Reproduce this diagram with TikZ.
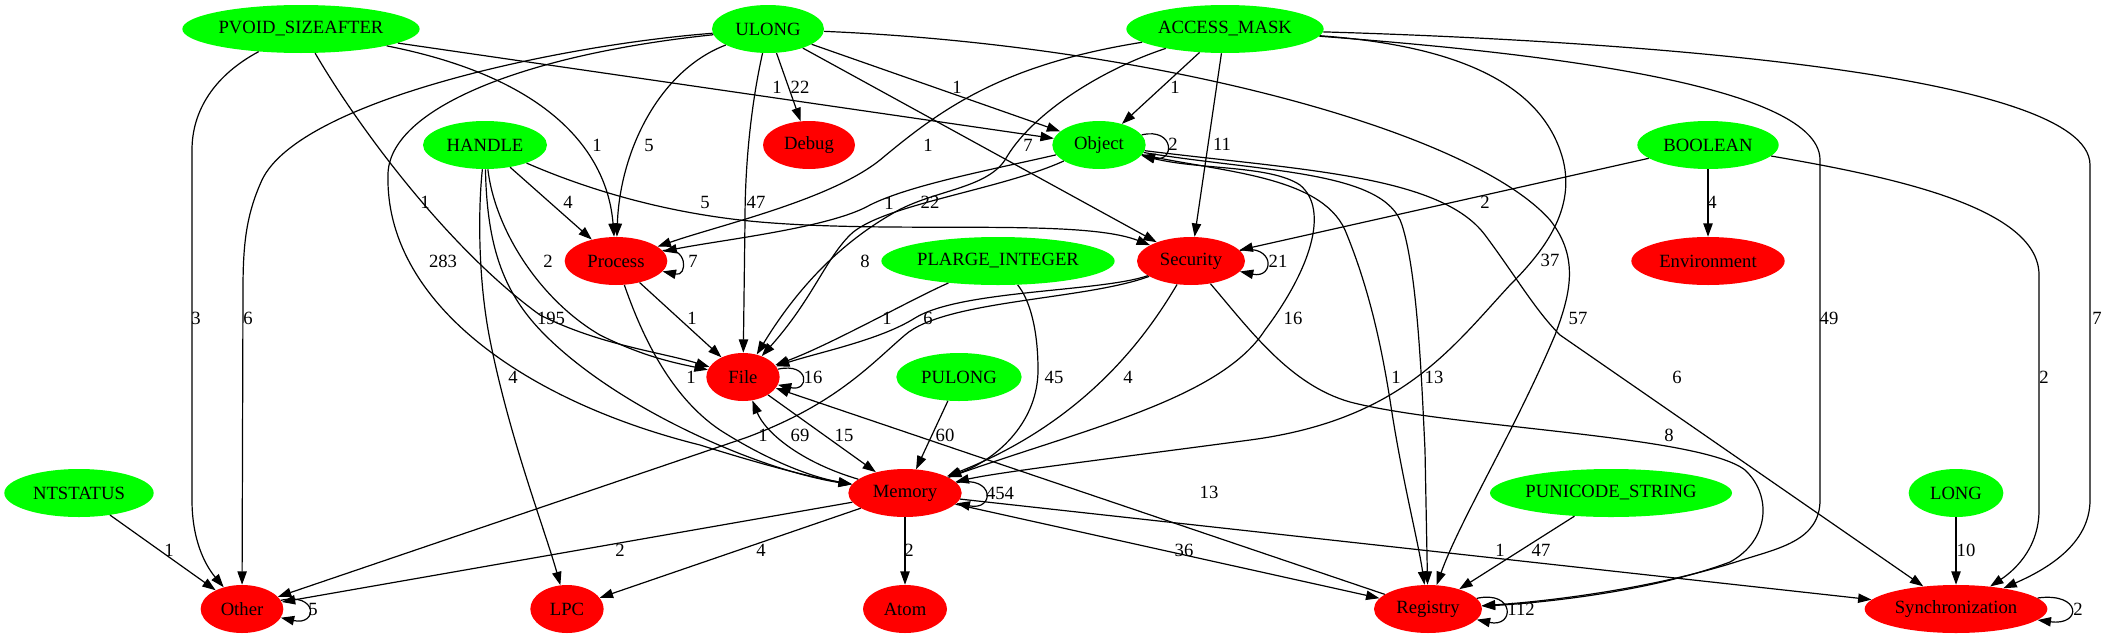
\documentclass[tikz,border=0pt]{standalone}
\usepackage{fontspec}
\newfontfamily\gvfontfam{Liberation Serif}
\newcommand{\gvf}{\gvfontfam\fontsize{14pt}{16pt}\selectfont}
\usetikzlibrary{shapes.geometric,arrows.meta}
\definecolor{gvgreen}{RGB}{0,255,0}
\definecolor{gvred}{RGB}{255,0,0}
\begin{document}
\begin{tikzpicture}[x=0.75pt,y=-0.75pt,
  tnode/.style={ellipse,fill=gvgreen,minimum height=36pt,inner sep=0pt,font=\gvf},
  cnode/.style={ellipse,fill=gvred,minimum height=36pt,inner sep=0pt,font=\gvf},
  lbl/.style={inner sep=0pt,font=\gvf},
  arr/.style={draw=black,line width=0.9pt,-{Triangle[length=10pt,width=7pt]}}]
\path[use as bounding box] (0,0) rectangle (2105,639);
% nodes
\node[tnode,minimum width=178pt] (pvoid) at (301,29) {PVOID\_SIZEAFTER};
\node[tnode,minimum width=84pt] (ulong) at (768,29) {ULONG};
\node[tnode,minimum width=148pt] (amask) at (1225,29) {ACCESS\_MASK};
\node[tnode,minimum width=93pt] (handle) at (485,145) {HANDLE};
\node[cnode,minimum width=69pt] (debug) at (809,145) {Debug};
\node[tnode,minimum width=70pt] (object) at (1099,145) {Object};
\node[tnode,minimum width=106pt] (boolean) at (1708,145) {BOOLEAN};
\node[cnode,minimum width=77pt] (process) at (616,261) {Process};
\node[tnode,minimum width=175pt] (plarge) at (998,261) {PLARGE\_INTEGER};
\node[cnode,minimum width=81pt] (security) at (1191,261) {Security};
\node[cnode,minimum width=115pt] (environment) at (1708,261) {Environment};
\node[cnode,minimum width=55pt] (file) at (743,377) {File};
\node[tnode,minimum width=94pt] (pulong) at (959,377) {PULONG};
\node[tnode,minimum width=112pt] (ntstatus) at (79,493) {NTSTATUS};
\node[cnode,minimum width=85pt] (memory) at (905,493) {Memory};
\node[tnode,minimum width=181pt] (punicode) at (1611,493) {PUNICODE\_STRING};
\node[tnode,minimum width=71pt] (long) at (1956,493) {LONG};
\node[cnode,minimum width=62pt] (other) at (242,609) {Other};
\node[cnode,minimum width=55pt] (lpc) at (567,609) {LPC};
\node[cnode,minimum width=63pt] (atom) at (905,609) {Atom};
\node[cnode,minimum width=81pt] (registry) at (1428,609) {Registry};
\node[cnode,minimum width=137pt] (sync) at (1956,609) {Synchronization};
% edges
\draw[arr] (pvoid) .. controls (215,75) and (192,110) .. (192,150) -- (192,500) .. controls (192,540) and (205,565) .. (other);
\draw[arr] (ulong) .. controls (560,45) and (300,100) .. (262,180) .. controls (246,215) and (243,245) .. (243,290) -- (other);
\draw[arr] (ulong) .. controls (520,55) and (388,110) .. (388,175) .. controls (385,300) and (520,400) .. (700,445) .. controls (770,467) and (815,478) .. (memory);
\draw[arr] (pvoid) .. controls (360,130) and (450,250) .. (540,315) .. controls (600,345) and (660,352) .. (file);
\draw[arr] (pvoid) .. controls (560,80) and (608,160) .. (process);
\draw[arr] (ulong) .. controls (660,70) and (620,150) .. (process);
\draw[arr] (pvoid) -- (object);
\draw[arr] (ulong) -- (debug);
\draw[arr] (ulong) -- (object);
\draw[arr] (ulong) -- (security);
\draw[arr] (ulong) .. controls (752,100) and (745,160) .. (745,220) -- (file);
\draw[arr] (ulong) .. controls (1150,45) and (1470,130) .. (1550,220) .. controls (1580,258) and (1570,295) .. (1555,335) .. controls (1515,430) and (1460,520) .. (registry);
\draw[arr] (amask) .. controls (1000,65) and (940,110) .. (880,160) .. controls (830,200) and (720,225) .. (process);
\draw[arr] (amask) .. controls (1100,70) and (1030,115) .. (1005,160) .. controls (985,190) and (930,190) .. (890,215) .. controls (830,250) and (790,300) .. (file);
\draw[arr] (amask) -- (object);
\draw[arr] (amask) -- (security);
\draw[arr] (amask) .. controls (1450,45) and (1535,80) .. (1560,150) .. controls (1580,205) and (1545,250) .. (1510,285) .. controls (1450,350) and (1400,420) .. (1250,440) .. controls (1100,460) and (1000,472) .. (memory);
\draw[arr] (amask) .. controls (1500,50) and (1820,80) .. (1820,160) -- (1820,500) .. controls (1820,540) and (1780,548) .. (1742,560) .. controls (1650,590) and (1540,602) .. (registry);
\draw[arr] (amask) .. controls (1600,40) and (2090,70) .. (2090,165) -- (2090,500) .. controls (2090,545) and (2045,570) .. (sync);
\draw[arr] (handle) -- (process);
\draw[arr] (handle) .. controls (600,195) and (680,215) .. (760,222) .. controls (900,234) and (1080,218) .. (security);
\draw[arr] (handle) .. controls (495,230) and (540,300) .. (600,335) .. controls (640,355) and (670,362) .. (file);
\draw[arr] (handle) .. controls (487,250) and (505,295) .. (545,335) .. controls (620,410) and (760,470) .. (memory);
\draw[arr] (handle) .. controls (478,210) and (478,280) .. (490,340) .. controls (510,440) and (545,530) .. (lpc);
\draw[arr] (object) .. controls (990,170) and (910,185) .. (870,205) .. controls (830,228) and (720,240) .. (process);
\draw[arr] (object) .. controls (1000,190) and (880,205) .. (850,235) .. controls (825,260) and (812,300) .. (file);
\draw[arr] (object) .. controls (1175,127) and (1175,163) .. (object);
\draw[arr] (memory) .. controls (1080,430) and (1220,400) .. (1265,330) .. controls (1310,270) and (1330,210) .. (1300,185) .. controls (1270,165) and (1200,170) .. (object);
\draw[arr] (object) .. controls (1220,172) and (1320,175) .. (1345,230) .. controls (1370,290) and (1382,350) .. (1390,400) .. controls (1402,480) and (1418,540) .. (registry);
\draw[arr] (object) .. controls (1260,172) and (1385,170) .. (1402,225) .. controls (1418,275) and (1422,390) .. (1425,450) -- (registry);
\draw[arr] (object) .. controls (1300,170) and (1440,175) .. (1485,235) .. controls (1515,275) and (1535,310) .. (1560,335) -- (sync);
\draw[arr] (boolean) -- (security);
\draw[arr] (boolean) -- (environment);
\draw[arr] (boolean) .. controls (1880,175) and (2039,205) .. (2039,275) -- (2039,510) .. controls (2039,550) and (2012,572) .. (sync);
\draw[arr] (process) .. controls (688,245) and (688,277) .. (process);
\draw[arr] (process) -- (file);
\draw[arr] (process) .. controls (640,330) and (668,395) .. (720,430) .. controls (770,462) and (815,478) .. (memory);
\draw[arr] (security) .. controls (1275,243) and (1275,279) .. (security);
\draw[arr] (security) .. controls (1100,292) and (960,290) .. (915,318) .. controls (880,340) and (820,352) .. (file);
\draw[arr] (plarge) .. controls (910,300) and (830,345) .. (file);
\draw[arr] (security) .. controls (1085,300) and (945,300) .. (905,335) .. controls (870,365) and (835,405) .. (745,438) -- (other);
\draw[arr] (security) .. controls (1150,330) and (1090,420) .. (memory);
\draw[arr] (security) .. controls (1250,330) and (1290,385) .. (1350,402) .. controls (1450,428) and (1700,435) .. (1745,470) .. controls (1772,495) and (1770,540) .. (1730,562) .. controls (1650,592) and (1540,603) .. (registry);
\draw[arr] (plarge) .. controls (1030,300) and (1038,330) .. (1038,370) .. controls (1038,420) and (1000,458) .. (memory);
\draw[arr] (pulong) -- (memory);
\draw[arr] (file) .. controls (810,362) and (810,392) .. (file);
\draw[arr] (file) -- (memory);
\draw[arr] (memory) .. controls (800,462) and (765,432) .. (file);
\draw[arr] (memory) .. controls (995,475) and (995,511) .. (memory);
\draw[arr] (memory) -- (other);
\draw[arr] (memory) -- (lpc);
\draw[arr] (memory) -- (atom);
\draw[arr] (memory) -- (registry);
\draw[arr] (memory) -- (sync);
\draw[arr] (registry) -- (file);
\draw[arr] (registry) .. controls (1515,590) and (1515,628) .. (registry);
\draw[arr] (punicode) -- (registry);
\draw[arr] (long) -- (sync);
\draw[arr] (sync) .. controls (2082,592) and (2082,626) .. (sync);
\draw[arr] (other) .. controls (318,592) and (318,626) .. (other);
\draw[arr] (ntstatus) -- (other);
% labels
\node[lbl] (l1) at (777,87) {1};
\node[lbl] (l2) at (800,87) {22};
\node[lbl] (l3) at (957,87) {1};
\node[lbl] (l4) at (1175,87) {1};
\node[lbl] (l5) at (597,145) {1};
\node[lbl] (l6) at (649,145) {5};
\node[lbl] (l7) at (928,145) {1};
\node[lbl] (l8) at (1028,145) {7};
\node[lbl] (l9) at (1173,144) {2};
\node[lbl] (l10) at (1222,144) {11};
\node[lbl] (l11) at (425,202) {1};
\node[lbl] (l12) at (568,202) {4};
\node[lbl] (l13) at (705,202) {5};
\node[lbl] (l14) at (756,202) {47};
\node[lbl] (l15) at (889,203) {1};
\node[lbl] (l16) at (930,202) {22};
\node[lbl] (l17) at (1485,202) {2};
\node[lbl] (l18) at (1712,202) {4};
\node[lbl] (l19) at (443,261) {283};
\node[lbl] (l20) at (548,261) {2};
\node[lbl] (l21) at (693,261) {7};
\node[lbl] (l22) at (865,261) {8};
\node[lbl] (l23) at (1278,261) {21};
\node[lbl] (l24) at (1550,260) {37};
\node[lbl] (l25) at (196,318) {3};
\node[lbl] (l26) at (248,318) {6};
\node[lbl] (l27) at (551,318) {195};
\node[lbl] (l28) at (692,318) {1};
\node[lbl] (l29) at (887,318) {1};
\node[lbl] (l30) at (928,318) {6};
\node[lbl] (l31) at (1293,318) {16};
\node[lbl] (l32) at (1578,318) {57};
\node[lbl] (l33) at (1829,318) {49};
\node[lbl] (l34) at (2097,318) {7};
\node[lbl] (l35) at (513,377) {4};
\node[lbl] (l36) at (691,377) {1};
\node[lbl] (l37) at (813,377) {16};
\node[lbl] (l38) at (1054,377) {45};
\node[lbl] (l39) at (1128,377) {4};
\node[lbl] (l40) at (1396,377) {1};
\node[lbl] (l41) at (1434,377) {13};
\node[lbl] (l42) at (1677,377) {6};
\node[lbl] (l43) at (2044,377) {2};
\node[lbl] (l44) at (763,435) {1};
\node[lbl] (l45) at (800,435) {69};
\node[lbl] (l46) at (844,435) {15};
\node[lbl] (l47) at (945,435) {60};
\node[lbl] (l48) at (1669,435) {8};
\node[lbl] (l49) at (1000,493) {454};
\node[lbl] (l50) at (1209,492) {13};
\node[lbl] (l51) at (169,550) {1};
\node[lbl] (l52) at (620,550) {2};
\node[lbl] (l53) at (761,550) {4};
\node[lbl] (l54) at (909,550) {2};
\node[lbl] (l55) at (1184,550) {36};
\node[lbl] (l56) at (1500,550) {1};
\node[lbl] (l57) at (1541,550) {47};
\node[lbl] (l58) at (1966,550) {10};
\node[lbl] (l59) at (313,609) {5};
\node[lbl] (l60) at (1521,609) {112};
\node[lbl] (l61) at (2078,609) {2};
\end{tikzpicture}
\end{document}
